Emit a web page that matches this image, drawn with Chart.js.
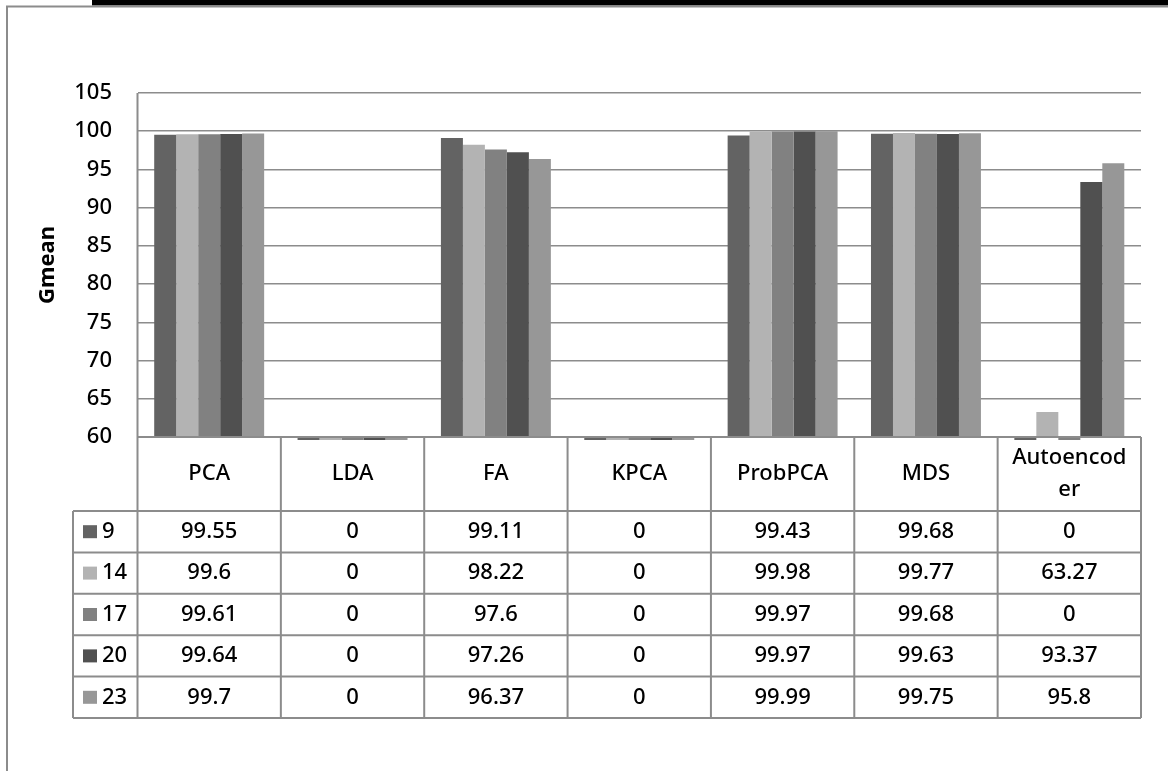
<!DOCTYPE html>
<html>
<head>
<meta charset="utf-8">
<script src="https://cdn.jsdelivr.net/npm/chart.js@4/dist/chart.umd.min.js"></script>
<style>
  html, body { margin: 0; padding: 0; background: #fff; }
  canvas { display: block; }
</style>
</head>
<body>
<canvas id="chart" width="1168" height="771"></canvas>
<script>
// Methods compared and Gmean scores per number of retained components
const categories = ['PCA', 'LDA', 'FA', 'KPCA', 'ProbPCA', 'MDS', ['Autoencod', 'er']];
const seriesNames = ['9', '14', '17', '20', '23'];
const s9  = [99.55, 0, 99.11, 0, 99.43, 99.68, 0];
const s14 = [99.6,  0, 98.22, 0, 99.98, 99.77, 63.27];
const s17 = [99.61, 0, 97.6,  0, 99.97, 99.68, 0];
const s20 = [99.64, 0, 97.26, 0, 99.97, 99.63, 93.37];
const s23 = [99.7,  0, 96.37, 0, 99.99, 99.75, 95.8];
const seriesValues = [s9, s14, s17, s20, s23];
const seriesColors = ['#636363', '#b3b3b3', '#818181', '#505050', '#979797'];
const yMin = 60, yMax = 105, yStep = 5;
const yTitle = 'Gmean';

const FONT = "'Noto Sans', 'Open Sans', sans-serif";
const LINE = '#8c8c8c';

// Page frame and the data table drawn under the plot
const tablePlugin = {
  id: 'dataTable',
  beforeDraw(chart) {
    const ctx = chart.ctx;
    ctx.save();
    ctx.fillStyle = '#000';
    ctx.fillRect(92, 0, chart.width - 92, 5.5);
    ctx.strokeStyle = LINE;
    ctx.lineWidth = 2;
    ctx.beginPath();
    ctx.moveTo(chart.width, 6.5);
    ctx.lineTo(7, 6.5);
    ctx.lineTo(7, chart.height);
    ctx.stroke();
    ctx.restore();
  },
  afterDatasetsDraw(chart) {
    const ctx = chart.ctx;
    const area = chart.chartArea;
    const xs = chart.scales.x, ys = chart.scales.y;
    const n = categories.length;
    const colW = (area.right - area.left) / n;
    const base = ys.getPixelForValue(yMin);
    const headerBottom = 511;
    const rowH = 41.4;
    const tableBottom = headerBottom + rowH * seriesNames.length;
    const legendLeft = 73;

    ctx.save();
    ctx.strokeStyle = LINE;
    ctx.lineWidth = 2;
    ctx.beginPath();
    // axis / header top line
    ctx.moveTo(area.left, base);
    ctx.lineTo(area.right, base);
    // plot left edge continuing through the table
    ctx.moveTo(area.left, area.top);
    ctx.lineTo(area.left, tableBottom);
    for (let i = 1; i <= n; i++) {
      const x = area.left + i * colW;
      ctx.moveTo(x, base);
      ctx.lineTo(x, tableBottom);
    }
    for (let r = 0; r <= seriesNames.length; r++) {
      const y = headerBottom + r * rowH;
      ctx.moveTo(legendLeft, y);
      ctx.lineTo(area.right, y);
    }
    ctx.moveTo(legendLeft, headerBottom);
    ctx.lineTo(legendLeft, tableBottom);
    ctx.stroke();

    ctx.fillStyle = '#000';
    ctx.font = '500 22px ' + FONT;
    ctx.textAlign = 'center';
    ctx.textBaseline = 'middle';
    // category header row
    categories.forEach((c, i) => {
      const cx = xs.getPixelForValue(i);
      const lines = Array.isArray(c) ? c : [c];
      const lh = 32;
      const cy = (base + headerBottom) / 2 - (lines.length - 1) * lh / 2;
      lines.forEach((t, k) => ctx.fillText(t, cx, cy + k * lh));
    });
    // value rows with legend keys
    seriesNames.forEach((name, r) => {
      const cy = headerBottom + (r + 0.5) * rowH;
      ctx.fillStyle = seriesColors[r];
      ctx.fillRect(83, cy - 6.5, 14, 13);
      ctx.fillStyle = '#000';
      ctx.textAlign = 'left';
      ctx.fillText(name, 102, cy);
      ctx.textAlign = 'center';
      seriesValues[r].forEach((v, i) => {
        ctx.fillText(String(v), xs.getPixelForValue(i), cy);
      });
    });
    ctx.restore();
  }
};

new Chart(document.getElementById('chart'), {
  type: 'bar',
  data: {
    labels: categories,
    datasets: seriesNames.map((name, k) => ({
      label: name,
      data: seriesValues[k],
      backgroundColor: seriesColors[k],
      borderWidth: 0,
      base: yMin,
      clip: { left: 0, top: 0, right: 0, bottom: 3 }
    }))
  },
  options: {
    responsive: false,
    animation: false,
    events: [],
    layout: { padding: { left: 0, top: 93, right: 27, bottom: 334 } },
    categoryPercentage: 0.767,
    barPercentage: 1.0,
    plugins: {
      legend: { display: false },
      tooltip: { enabled: false },
      title: { display: false }
    },
    scales: {
      x: { display: false },
      y: {
        min: yMin,
        max: yMax,
        afterFit(scale) { scale.width = 137.5; },
        border: { display: false },
        grid: { color: LINE, lineWidth: 1.5, drawTicks: false },
        ticks: {
          stepSize: yStep,
          padding: 25.5,
          color: '#000',
          font: { family: FONT, size: 22, weight: '500' }
        },
        title: {
          display: true,
          text: yTitle,
          color: '#000',
          font: { family: FONT, size: 22, weight: 'bold' },
          padding: { top: 35, bottom: 0 }
        }
      }
    }
  },
  plugins: [tablePlugin]
});
</script>
</body>
</html>
